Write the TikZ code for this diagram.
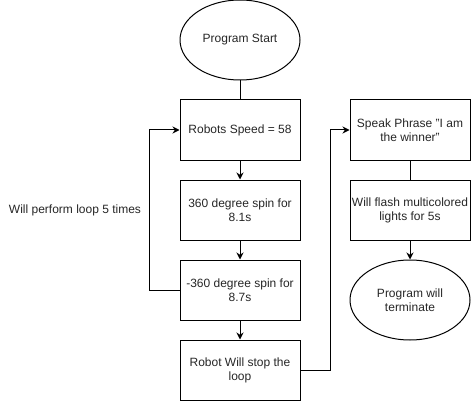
\documentclass[tikz,border=0pt]{standalone}
\usepackage{fontspec}
\setmainfont{Liberation Sans}
\usetikzlibrary{arrows.meta,shapes.geometric}
\begin{document}
\begin{tikzpicture}[x=1pt,y=-1pt,
  every node/.style={font=\fontsize{12}{14}\selectfont, text=black!85},
  box/.style={draw, line width=1pt, minimum width=120pt, minimum height=60pt, align=center, inner sep=0pt},
  oval/.style={draw, ellipse, line width=1pt, minimum width=120pt, minimum height=80pt, align=center, inner sep=0pt},
  conn/.style={line width=1pt},
  arr/.style={conn, -{Stealth[length=7pt,width=7pt]}}]
\useasboundingbox (0,0) rectangle (471,401);
\node[oval] (start) at (240,40) {Program Start};
\node[box] (b1) at (240,130) {Robots Speed = 58};
\node[box] (b2) at (240,210) {360 degree spin for\\8.1s};
\node[box] (b3) at (240,290) {-360 degree spin for\\8.7s};
\node[box] (b4) at (240,370) {Robot Will stop the\\loop};
\node[box] (s1) at (410,130) {Speak Phrase "I am\\the winner"};
\node[box] (s2) at (410,210) {Will flash multicolored\\lights for 5s};
\node[oval] (fin) at (410,300) {Program will\\terminate};
\node (lbl) at (75,210) {Will perform loop 5 times};
\draw[conn] (start) -- (b1);
\draw[arr] (b1) -- (b2);
\draw[arr] (b2) -- (b3);
\draw[arr] (b3) -- (b4);
\draw[arr] (b3.west) -- ++(-30,0) |- (b1.west);
\draw[arr] (b4.east) -- ++(30,0) |- (s1.west);
\draw[conn] (s1) -- (s2);
\draw[arr] (s2) -- (fin);
\end{tikzpicture}
\end{document}
